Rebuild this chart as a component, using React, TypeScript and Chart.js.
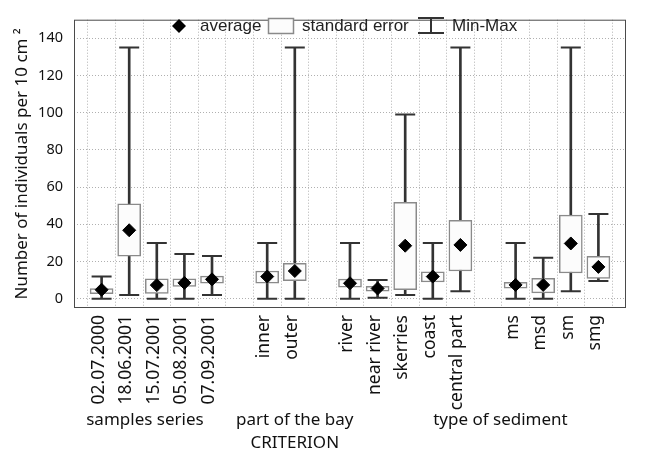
import React, { useEffect, useRef } from 'react';
import { Chart, registerables } from 'chart.js';

Chart.register(...registerables);

// ---- data ----
const categories = [
  '02.07.2000', '18.06.2001', '15.07.2001', '05.08.2001', '07.09.2001', '',
  'inner', 'outer', '',
  'river', 'near river', 'skerries', 'coast', 'central part', '',
  'ms', 'msd', 'sm', 'smg',
];
const averages = [4.8, 36.8, 7.3, 8.5, 10.4, null, 11.9, 14.9, null, 8.3, 5.5, 28.5, 11.9, 28.9, null, 7.4, 7.4, 29.7, 17.1];
const seLow = [2.7, 22.8, 2.8, 6.6, 8.3, null, 8.3, 9.7, null, 6.2, 4.1, 4.8, 9.0, 14.9, null, 5.7, 3.1, 13.8, 10.9];
const seHigh = [5.5, 51, 10.7, 10.7, 12.1, null, 14.9, 19, null, 10.5, 6.6, 51.8, 14.4, 42.2, null, 8.8, 11, 44.9, 22.8];
const minValues = [0, 2, 0, 0, 2, null, 0, 0, null, 0, 0.5, 2, 0, 4, null, 0, 0, 4, 9.5];
const maxValues = [12, 135, 30, 24, 23, null, 30, 135, null, 30, 10, 99, 30, 135, null, 30, 22, 135, 45.5];
const yTicks = [0, 20, 40, 60, 80, 100, 120, 140];
const groupNames = ['samples series', 'part of the bay', 'type of sediment'];
const groupCentres = [1.57, 7.0, 14.45]; // category index (layout)
const criterionLabel = 'CRITERION';
const legendNames = ['average', 'standard error', 'Min-Max'];

const pad = <T,>(arr: T[]): (T | null)[] => [null, ...arr, null];
const labels = ['', ...categories, ''];

const overlayPlugin = {
  id: 'overlay',
  afterDraw(chart: any) {
    const { ctx, chartArea } = chart;
    const x = chart.scales.x;
    ctx.save();
    // frame
    ctx.strokeStyle = '#4a4a4a';
    ctx.lineWidth = 1;
    ctx.setLineDash([]);
    ctx.strokeRect(chartArea.left + 0.5, chartArea.top + 0.5, chartArea.right - chartArea.left - 1, chartArea.bottom - chartArea.top - 1);

    // group labels
    ctx.fillStyle = '#111';
    ctx.font = '17px "Noto Sans"';
    ctx.textAlign = 'center';
    ctx.textBaseline = 'middle';
    groupNames.forEach((g, i) => {
      ctx.fillText(g, x.getPixelForValue(groupCentres[i] + 1), 420);
    });
    ctx.fillText(criterionLabel, x.getPixelForValue(groupCentres[1] + 1), 443);

    // legend
    const ly = 26;
    ctx.fillStyle = '#000';
    ctx.beginPath();
    ctx.moveTo(179, ly - 7);
    ctx.lineTo(186, ly);
    ctx.lineTo(179, ly + 7);
    ctx.lineTo(172, ly);
    ctx.closePath();
    ctx.fill();
    ctx.font = '17px "Liberation Sans"';
    ctx.textAlign = 'left';
    ctx.fillStyle = '#222';
    ctx.fillText(legendNames[0], 200, ly);
    ctx.fillStyle = '#fcfcfc';
    ctx.fillRect(268, 18, 26, 16);
    ctx.strokeStyle = '#8a8a8a';
    ctx.lineWidth = 1.5;
    ctx.strokeRect(268.5, 18.5, 25, 15);
    ctx.fillStyle = '#222';
    ctx.fillText(legendNames[1], 302, ly);
    ctx.strokeStyle = '#333';
    ctx.lineWidth = 2;
    ctx.beginPath();
    ctx.moveTo(418, 18); ctx.lineTo(444, 18);
    ctx.moveTo(418, 33); ctx.lineTo(444, 33);
    ctx.moveTo(431, 18); ctx.lineTo(431, 33);
    ctx.stroke();
    ctx.fillText(legendNames[2], 452, ly);
    ctx.restore();
  },
};

export default function App() {
  const ref = useRef<HTMLCanvasElement | null>(null);
  useEffect(() => {
    if (!ref.current) return;
    Chart.defaults.font.family = '"Noto Sans"';
    const whisker = minValues.map((m, i) => (m == null ? null : [m, maxValues[i] as number]));
    const box = seLow.map((l, i) => (l == null ? null : [l, seHigh[i] as number]));
    const chart = new Chart(ref.current, {
      type: 'bar',
      data: {
        labels,
        datasets: [
          {
            type: 'bar',
            data: pad(whisker) as any,
            barThickness: 2,
            backgroundColor: '#333',
            borderWidth: 0,
            grouped: false,
            order: 4,
          },
          {
            type: 'line',
            data: pad(minValues) as any,
            showLine: false,
            pointStyle: 'line',
            pointRadius: 10,
            pointBorderWidth: 2,
            pointBorderColor: '#333',
            order: 3,
          },
          {
            type: 'line',
            data: pad(maxValues) as any,
            showLine: false,
            pointStyle: 'line',
            pointRadius: 10,
            pointBorderWidth: 2,
            pointBorderColor: '#333',
            order: 3,
          },
          {
            type: 'bar',
            data: pad(box) as any,
            barThickness: 23,
            backgroundColor: '#fcfcfc',
            borderColor: '#8a8a8a',
            borderWidth: 1.5,
            borderSkipped: false,
            grouped: false,
            order: 2,
          },
          {
            type: 'line',
            data: pad(averages) as any,
            showLine: false,
            pointStyle: 'rectRot',
            pointRadius: 6.5,
            pointBackgroundColor: '#000',
            pointBorderColor: '#000',
            pointBorderWidth: 1,
            order: 1,
          },
        ],
      },
      options: {
        animation: false,
        responsive: true,
        maintainAspectRatio: false,
        events: [],
        layout: { padding: { top: 10, right: 8, left: 0, bottom: 0 } },
        plugins: { legend: { display: false }, tooltip: { enabled: false } },
        scales: {
          x: {
            type: 'category',
            offset: false,
            grid: { color: '#b0b0b0', lineWidth: 1, drawTicks: false },
            border: { display: false, dash: [1, 2] },
            ticks: {
              autoSkip: false,
              maxRotation: 90,
              minRotation: 90,
              padding: 7,
              labelOffset: -3,
              color: '#111',
              font: { size: 17.5 },
            },
            afterFit: (s: any) => { s.height = 144; },
          },
          y: {
            min: -5,
            max: 150,
            grid: { color: '#b0b0b0', lineWidth: 1, drawTicks: false },
            border: { display: false, dash: [1, 2] },
            afterBuildTicks: (axis: any) => { axis.ticks = yTicks.map((v) => ({ value: v })); },
            ticks: { padding: 11, color: '#111', font: { size: 14.5 } },
            title: {
              display: true,
              text: 'Number of individuals per 10 cm ²',
              color: '#111',
              font: { size: 17 },
              padding: { top: 12, bottom: 0 },
            },
            afterFit: (s: any) => { s.width = 74; },
          },
        },
      },
      plugins: [overlayPlugin],
    });
    return () => chart.destroy();
  }, []);
  return (
    <div style={{ position: 'absolute', left: 0, top: 0, width: 654, height: 452, background: '#fff' }}>
      <canvas ref={ref} />
    </div>
  );
}
